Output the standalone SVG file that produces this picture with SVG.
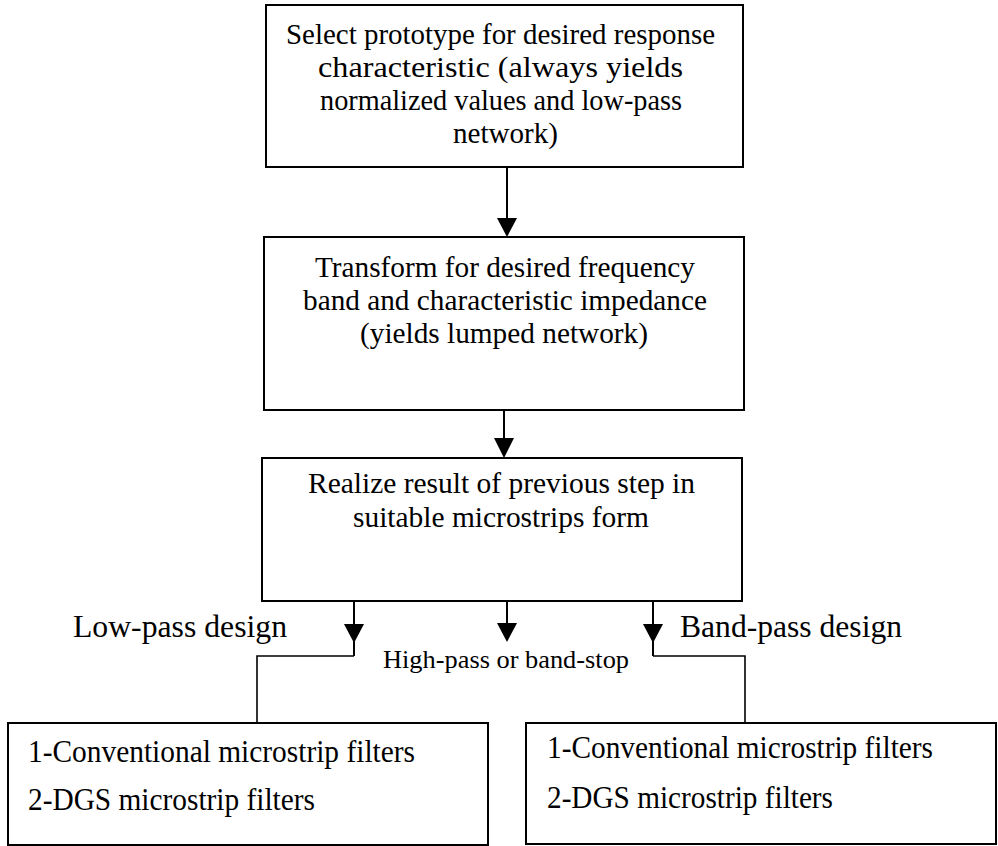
<svg xmlns="http://www.w3.org/2000/svg" width="998" height="846" viewBox="0 0 998 846">
<style>
  .box { fill: #ffffff; stroke: #000000; stroke-width: 2; }
  .t { font-family: "Liberation Serif", "Times New Roman", serif; font-size: 29.5px; fill: #000000; }
  .b { font-family: "Liberation Serif", "Times New Roman", serif; font-size: 31px; fill: #000000; }
  .c { text-anchor: middle; }
  .lbl { font-family: "Liberation Serif", "Times New Roman", serif; font-size: 32px; fill: #000000; }
  .sm { font-family: "Liberation Serif", "Times New Roman", serif; font-size: 26px; fill: #000000; }
  .ln { fill: none; stroke: #000000; stroke-width: 2; }
  .ln2 { fill: none; stroke: #000000; stroke-width: 1.6; }
  .ah { fill: #000000; stroke: none; }
</style>
<rect width="998" height="846" fill="#ffffff"/>

<g id="connectors">
  <line class="ln" x1="507" y1="167" x2="507" y2="220"/>
  <polygon class="ah" points="497,218 517,218 507,237"/>
  <line class="ln" x1="504" y1="410" x2="504" y2="440"/>
  <polygon class="ah" points="494,438 514,438 504,458"/>
  <polyline class="ln" points="354,601 354,656"/>
  <polygon class="ah" points="344,624 364,624 354,643"/>
  <polyline class="ln2" points="354,656 257,656 257,723"/>
  <line class="ln" x1="507" y1="600" x2="507" y2="625"/>
  <polygon class="ah" points="497,623 517,623 507,642"/>
  <polyline class="ln" points="653,601 653,656"/>
  <polygon class="ah" points="643,624 663,624 653,643"/>
  <polyline class="ln2" points="653,656 745,656 745,723"/>
</g>

<g id="node-prototype">
  <rect class="box" x="266" y="5" width="477" height="162"/>
  <text class="t c" x="500.5" y="44" textLength="429" lengthAdjust="spacingAndGlyphs">Select prototype for desired response</text>
  <text class="t c" x="500.5" y="77" textLength="365" lengthAdjust="spacingAndGlyphs">characteristic (always yields</text>
  <text class="t c" x="501" y="110" textLength="362" lengthAdjust="spacingAndGlyphs">normalized values and low-pass</text>
  <text class="t c" x="505.5" y="143" textLength="105" lengthAdjust="spacingAndGlyphs">network)</text>
</g>

<g id="node-transform">
  <rect class="box" x="264" y="237" width="480" height="173"/>
  <text class="t c" x="505" y="277" textLength="380" lengthAdjust="spacingAndGlyphs">Transform for desired frequency</text>
  <text class="t c" x="505" y="310" textLength="404" lengthAdjust="spacingAndGlyphs">band and characteristic impedance</text>
  <text class="t c" x="504" y="343" textLength="288" lengthAdjust="spacingAndGlyphs">(yields lumped network)</text>
</g>

<g id="node-realize">
  <rect class="box" x="262" y="458" width="480" height="143"/>
  <text class="t c" x="501.5" y="493" textLength="387" lengthAdjust="spacingAndGlyphs">Realize result of previous step in</text>
  <text class="t c" x="501" y="527" textLength="296" lengthAdjust="spacingAndGlyphs">suitable microstrips form</text>
</g>

<g id="labels">
  <text class="lbl" x="73" y="637" textLength="214" lengthAdjust="spacingAndGlyphs">Low-pass design</text>
  <text class="sm" x="383" y="668" textLength="246" lengthAdjust="spacingAndGlyphs">High-pass or band-stop</text>
  <text class="lbl" x="680" y="637" textLength="222" lengthAdjust="spacingAndGlyphs">Band-pass design</text>
</g>

<g id="node-lowpass">
  <rect class="box" x="8" y="723" width="480" height="122"/>
  <text class="b" x="28" y="762" textLength="387" lengthAdjust="spacingAndGlyphs">1-Conventional microstrip filters</text>
  <text class="b" x="28" y="810" textLength="287" lengthAdjust="spacingAndGlyphs">2-DGS microstrip filters</text>
</g>

<g id="node-bandpass">
  <rect class="box" x="526" y="723" width="470" height="121"/>
  <text class="b" x="547" y="758" textLength="386" lengthAdjust="spacingAndGlyphs">1-Conventional microstrip filters</text>
  <text class="b" x="547" y="808" textLength="286" lengthAdjust="spacingAndGlyphs">2-DGS microstrip filters</text>
</g>
</svg>
